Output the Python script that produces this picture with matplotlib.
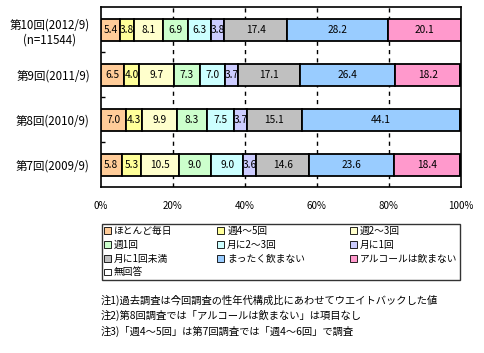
import matplotlib.pyplot as plt
from matplotlib.patches import Patch

plt.rcParams['font.family'] = ['Noto Sans CJK JP', 'DejaVu Sans']

# survey rounds, bottom to top
rounds = ["第7回(2009/9)", "第8回(2010/9)", "第9回(2011/9)", "第10回(2012/9)\n(n=11544)"]

categories = ["ほとんど毎日", "週4～5回", "週2～3回", "週1回", "月に2～3回",
              "月に1回", "月に1回未満", "まったく飲まない", "アルコールは飲まない", "無回答"]
colors = ["#FFCC99", "#FFFF99", "#FFFFCC", "#CCFFCC", "#CCFFFF",
          "#CCCCFF", "#C0C0C0", "#99CCFF", "#FF99CC", "#FFFFFF"]

# values per category, same order as rounds
almost_daily = [5.8, 7.0, 6.5, 5.4]
week_4_5 = [5.3, 4.3, 4.0, 3.8]
week_2_3 = [10.5, 9.9, 9.7, 8.1]
week_1 = [9.0, 8.3, 7.3, 6.9]
month_2_3 = [9.0, 7.5, 7.0, 6.3]
month_1 = [3.6, 3.7, 3.7, 3.8]
under_month = [14.6, 15.1, 17.1, 17.4]
never = [23.6, 44.1, 26.4, 28.2]
no_alcohol = [18.4, 0.0, 18.2, 20.1]
no_answer = [0.0, 0.0, 0.0, 0.0]

series = [almost_daily, week_4_5, week_2_3, week_1, month_2_3,
          month_1, under_month, never, no_alcohol, no_answer]

fig = plt.figure(figsize=(4.85, 3.53), dpi=100)
ax = fig.add_axes([0.208, 0.470, 0.742, 0.510])

y = range(len(rounds))
left = [0.0] * len(rounds)
for vals, col in zip(series, colors):
    ax.barh(y, vals, left=left, height=0.49, color=col, edgecolor='black',
            linewidth=1.3, zorder=3)
    for i, v in enumerate(vals):
        if v > 0:
            ax.text(left[i] + v / 2, i, f"{v:.1f}", ha='center', va='center',
                    fontsize=7.3, zorder=4)
    left = [a + b for a, b in zip(left, vals)]

ax.set_xlim(0, 100)
ax.set_ylim(-0.5, len(rounds) - 0.5)
ax.set_xticks([0, 20, 40, 60, 80, 100])
ax.set_xticklabels([f"{t}%" for t in [0, 20, 40, 60, 80, 100]], fontsize=7)
ax.tick_params(axis='x', length=0, pad=10)
ax.set_yticks(list(y))
ax.set_yticklabels(rounds, fontsize=8.3, ha='right', multialignment='center')
ax.tick_params(axis='y', which='major', length=0, pad=8)
ax.set_yticks([0.5, 1.5, 2.5], minor=True)
ax.tick_params(axis='y', which='minor', direction='in', length=3, width=1)
for x in [20, 40, 60, 80]:
    ax.axvline(x, color='black', linestyle=(0, (3, 3)), linewidth=1, zorder=1)
for s in ax.spines.values():
    s.set_linewidth(1.2)

handles = [Patch(facecolor=c, edgecolor='black', linewidth=0.6) for c in colors]
order = [0, 3, 6, 9, 1, 4, 7, 2, 5, 8]
leg = fig.legend([handles[i] for i in order], [categories[i] for i in order],
                 ncol=3, loc='upper left', mode='expand',
                 bbox_to_anchor=(0.210, 0.207, 0.738, 0.159),
                 fontsize=7, frameon=True, fancybox=False, edgecolor='black',
                 handlelength=0.7, handleheight=0.7, handletextpad=0.3,
                 columnspacing=2.0, labelspacing=0.38, borderpad=0.25,
                 borderaxespad=0)
leg.get_frame().set_linewidth(1.0)

notes = ["注1)過去調査は今回調査の性年代構成比にあわせてウエイトバックした値",
         "注2)第8回調査では「アルコールは飲まない」は項目なし",
         "注3)「週4～5回」は第7回調査では「週4～6回」で調査"]
for k, n in enumerate(notes):
    fig.text(0.208, 0.150 - k * 0.044, n, fontsize=7.4, va='center')

fig.savefig('out.png', dpi=100)
